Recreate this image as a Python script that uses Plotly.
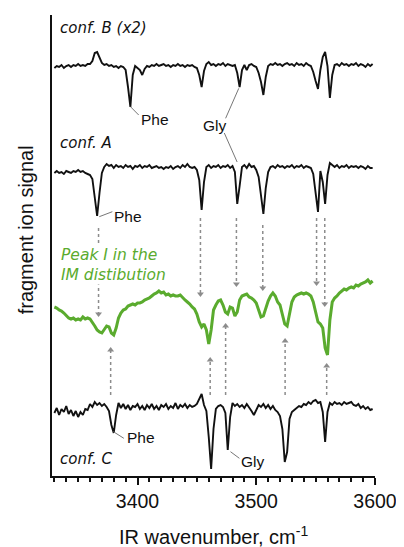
import plotly.graph_objects as go

# ---------------- data ----------------
WAVENUMBER = list(range(3330, 3600, 2))  # cm-1 sampling grid

# signals relative to each trace's own baseline (arbitrary units, dips negative)
CONF_B = [-1, 1, 0, 2, -1, 1, 2, 0, 2, 1, 3, 1, 2, 1, 3,
          3, 6, 14, 15, 9, 4, 2, 3, 1, 2, 0, 1, -1, 1, 0,
          -3, -20, -40, -8, 1, -1, -3, -8, -2, 1, 0, 2, 1, 3, 1,
          2, 3, 1, 2, 0, 2, 1, 3, 1, 2, 0, 2, 1, 2, 0,
          -1, -8, -20, -4, 3, 5, 2, 3, 1, 3, 2, 4, 1, 3, 2,
          1, 2, -6, -20, -3, 2, -3, 2, 3, 1, 0, -6, -15, -28, -10,
          1, 3, 2, 4, 2, 3, 1, 3, 4, 2, 3, 1, 4, 2, 3,
          1, 4, 2, 1, -5, -14, -22, -3, 10, 15, 1, -31, -8, 2, 3,
          1, 4, 2, 3, 1, 3, 2, 4, 1, 3, 2, 0, 3, 1, 3]

CONF_A = [-5, -3, -5, -4, -6, -3, -4, -5, -3, -4, -2, -4, -3, -5, -6,
          -7, -11, -28, -48, -25, -5, 1, 4, 2, 3, 0, 3, 1, 2, 0,
          3, 1, 2, -1, 2, 1, 3, 0, 2, 1, 3, 0, 1, 2, 0,
          1, -1, 1, 0, 2, -1, 1, 2, 0, 3, 1, 4, 1, 0, 1,
          -2, -12, -42, -14, 1, 3, 0, 2, 1, 3, 0, 2, 1, 3, 0,
          2, -4, -36, -18, 1, 3, 0, 4, 1, 2, -2, -9, -26, -46, -20,
          -4, 1, 2, 0, 3, 1, 2, 0, 2, 1, 3, 0, 2, 1, 3,
          0, 2, 1, 0, -6, -26, -44, -3, -14, -36, -7, 5, 3, 1, 3,
          0, 2, 1, 3, 0, 2, 1, 2, 0, 2, 1, -1, 2, 0, 0]

PEAK_I = [-7, -8, -10, -11, -13, -16, -18, -19, -18, -20, -19, -20, -17, -19, -18,
          -19, -22, -26, -30, -32, -33, -30, -26, -27, -33, -35, -28, -18, -13, -10,
          -9, -6, -5, -4, -5, -3, -3, -2, 0, 1, 2, 4, 6, 7, 9,
          7, 8, 5, 6, 4, 5, 4, 4, 5, 2, 0, -2, -4, -7, -9,
          -14, -22, -27, -24, -30, -44, -30, -10, -5, -1, 0, -5, -12, -14, -7,
          -8, -16, -12, 0, 4, 5, 6, 3, 2, 0, -3, -10, -17, -16, -8,
          -1, 4, 7, 4, -2, -5, -14, -24, -26, -12, -2, 3, 5, 6, 7,
          6, 7, 6, 4, -2, -12, -22, -24, -28, -48, -55, -20, -2, 2, 4,
          7, 9, 11, 10, 12, 13, 12, 15, 14, 16, 17, 18, 20, 17, 19]

CONF_C = [-6, -1, -8, -2, -5, 1, -7, -3, -9, -4, -10, -5, -8, -2, -3,
          3, 0, 5, 2, 4, 1, 3, 0, -4, -18, -26, -8, 4, -1, 3,
          -2, 2, -3, 1, 0, 3, -2, 1, -3, 2, -1, 3, -2, 1, -3,
          2, 0, 3, -2, 1, -1, 4, -2, 2, 0, 3, -1, 2, 0, 1,
          3, 8, 13, 2, -4, -30, -62, -22, -2, 1, 2, 0, -6, -43, -10,
          4, 1, 3, 0, 2, -1, 3, 0, -4, -8, -2, 2, 0, 3, -1,
          2, -2, 1, -3, -5, -9, -22, -55, -45, -12, -5, -3, -1, 1, 0,
          3, 2, 5, 3, 6, 7, 4, 5, -5, -35, -5, 4, 2, 5, 3,
          4, 2, 5, 3, 4, 5, 2, 1, 3, -1, 1, -2, 0, -3, -2]

for s in (CONF_B, CONF_A, PEAK_I, CONF_C):
    assert len(s) == len(WAVENUMBER)

# band positions linked by arrows (cm-1)
DOWN_ARROW_WN = [3367.2, 3453.0, 3483.3, 3505.5, 3550.8, 3557.7]
UP_ARROW_WN = [3377.4, 3461.2, 3474.2, 3524.3, 3559.3]

X_TICKS = [3400, 3500, 3600]
X_TICK_TEXT = ["3400", "3500", "3600"]

# ---------------- layout constants ----------------
OFFSET_B, OFFSET_A, OFFSET_I, OFFSET_C = 409, 308, 176, 69
DOWN_START = [248, 258, 258, 251, 258, 258]
DOWN_TIP = [159, 179, 189, 185, 190, 169]
UP_START = [81, 81, 81, 81, 81]
UP_TIP = [129, 119, 153, 138, 113]

BLACK = "#111111"
GREEN = "#5aab2e"
GREY = "#8c8c8c"
LEAD = "#777777"
SANS = "Liberation Sans, Arial, sans-serif"
LABEL_FONT = "DejaVu Sans, sans-serif"

fig = go.Figure()

def add_trace(vals, off, color, width):
    fig.add_trace(go.Scatter(
        x=WAVENUMBER, y=[v + off for v in vals], mode="lines",
        line=dict(color=color, width=width), hoverinfo="skip", showlegend=False))

add_trace(CONF_B, OFFSET_B, BLACK, 1.9)
add_trace(CONF_A, OFFSET_A, BLACK, 1.9)
add_trace(PEAK_I, OFFSET_I, GREEN, 3)
add_trace(CONF_C, OFFSET_C, BLACK, 1.9)

# dotted arrows
HEAD = 3
lx, ly = [], []
for w, s, t in zip(DOWN_ARROW_WN, DOWN_START, DOWN_TIP):
    lx += [w, w, None]; ly += [s, t + HEAD, None]
for w, s, t in zip(UP_ARROW_WN, UP_START, UP_TIP):
    lx += [w, w, None]; ly += [s, t - HEAD, None]
fig.add_trace(go.Scatter(x=lx, y=ly, mode="lines",
                         line=dict(color=GREY, width=1.5, dash="dot"),
                         hoverinfo="skip", showlegend=False))
fig.add_trace(go.Scatter(x=DOWN_ARROW_WN, y=[t + HEAD for t in DOWN_TIP], mode="markers",
                         marker=dict(symbol="triangle-down", size=6, color=GREY),
                         hoverinfo="skip", showlegend=False))
fig.add_trace(go.Scatter(x=UP_ARROW_WN, y=[t - HEAD for t in UP_TIP], mode="markers",
                         marker=dict(symbol="triangle-up", size=6, color=GREY),
                         hoverinfo="skip", showlegend=False))

# leader lines for band labels
LEADERS = [
    (3394.1, 369.3, 3401.0, 361.0),   # Phe B
    (3474.2, 357.7, 3485.3, 387.7),   # Gly -> B
    (3473.1, 343.0, 3483.9, 314.0),   # Gly -> A
    (3367.8, 259.3, 3378.8, 264.3),   # Phe A
    (3379.7, 44.3, 3388.5, 37.7),     # Phe C
    (3478.3, 24.3, 3485.8, 17.7),     # Gly C
]
for x0, y0, x1, y1 in LEADERS:
    fig.add_shape(type="line", xref="x", yref="y", x0=x0, y0=y0, x1=x1, y1=y1,
                  line=dict(color=LEAD, width=1))

def label(text, x, y, font, size, color=BLACK, italic=False, bg=None):
    fig.add_annotation(x=x, y=y, xref="x", yref="y", text=text, showarrow=False,
                       xanchor="left", yanchor="middle", align="left",
                       font=dict(family=font, size=size, color=color,
                                 style="italic" if italic else "normal"),
                       bgcolor=bg, borderpad=0)

label("conf. B (x2)", 3334.0, 447.7, LABEL_FONT, 15, italic=True)
label("conf. A", 3334.0, 332.7, LABEL_FONT, 15, italic=True)
label("conf. C", 3334.0, 17.0, LABEL_FONT, 15, italic=True)
label("Peak I in the<br>IM distibution", 3334.8, 210.6, LABEL_FONT, 15.5,
      color=GREEN, italic=True, bg="white")
label("Phe", 3401.8, 356.7, SANS, 15.5)
label("Gly", 3454.4, 351.0, SANS, 15.5)
label("Phe", 3379.6, 260.0, SANS, 15.5)
label("Phe", 3390.2, 38.3, SANS, 15.5)
label("Gly", 3486.0, 14.3, SANS, 15.5)

# axis titles
fig.add_annotation(x=-0.082, y=0.534, xref="paper", yref="paper", text="fragment ion signal",
                   showarrow=False, textangle=-90, xanchor="center", yanchor="middle",
                   font=dict(family=SANS, size=20, color=BLACK))
fig.add_annotation(x=0.5, y=-0.128, xref="paper", yref="paper",
                   text="IR wavenumber, cm<sup>-1</sup>", showarrow=False,
                   xanchor="center", yanchor="middle",
                   font=dict(family=SANS, size=20, color=BLACK))

# the page body keeps its default 8px margin, so the figure is laid out 8px
# left/up of the window edge (and 8px narrower) to land the plot area where
# the reference has it while keeping the figure inside the window
fig.update_layout(
    width=396, height=547,
    margin=dict(l=44, r=24, t=7, b=79),
    paper_bgcolor="white", plot_bgcolor="white",
    xaxis=dict(range=[3328, 3600], showgrid=False, zeroline=False,
               showline=True, linecolor=BLACK, linewidth=2,
               ticks="outside", ticklen=7, tickwidth=1.5, tickcolor=BLACK,
               tickvals=X_TICKS, ticktext=X_TICK_TEXT,
               tickfont=dict(family=SANS, size=19.5, color=BLACK),
               minor=dict(dtick=10, tick0=3330, ticks="outside", ticklen=4,
                          tickwidth=1.5, tickcolor=BLACK)),
    yaxis=dict(range=[0, 461], showgrid=False, zeroline=False,
               showline=True, linecolor=BLACK, linewidth=2,
               showticklabels=False, ticks=""),
)

fig.write_html("out.html", config={"displayModeBar": False})
